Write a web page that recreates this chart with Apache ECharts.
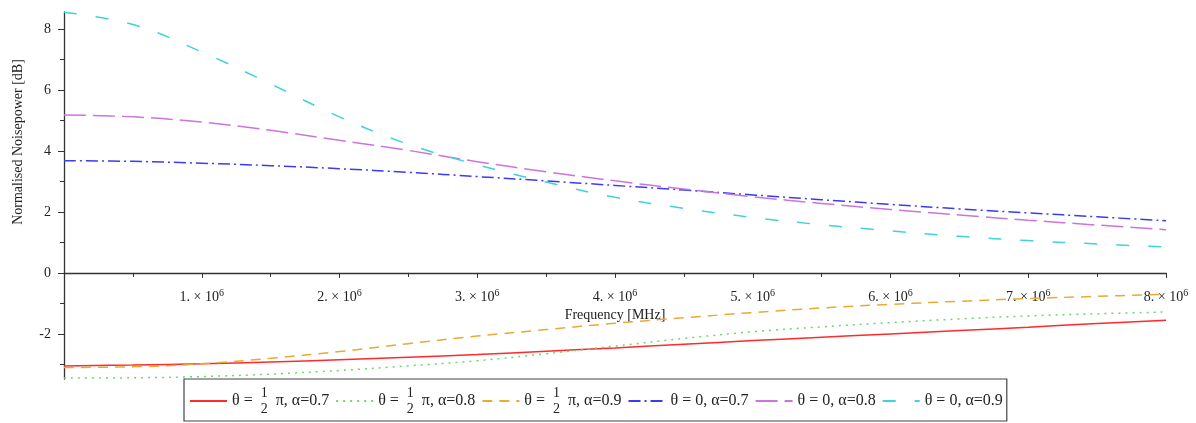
<!DOCTYPE html>
<html>
<head>
<meta charset="utf-8">
<script src="https://cdn.jsdelivr.net/npm/echarts@6/dist/echarts.min.js"></script>
<style>
  html, body { margin: 0; padding: 0; background: #fff; }
  #chart { width: 1196px; height: 423px; }
</style>
</head>
<body>
<div id="chart"></div>
<script>
// frequency samples (Hz), step 0.5e6
const freq = [0, 0.5e6, 1e6, 1.5e6, 2e6, 2.5e6, 3e6, 3.5e6, 4e6, 4.5e6, 5e6, 5.5e6, 6e6, 6.5e6, 7e6, 7.5e6, 8e6];

const seriesNames = [
  'θ = 1/2 π, α=0.7',
  'θ = 1/2 π, α=0.8',
  'θ = 1/2 π, α=0.9',
  'θ = 0, α=0.7',
  'θ = 0, α=0.8',
  'θ = 0, α=0.9'
];

const halfPi07 = [-3.05, -3.02, -2.98, -2.92, -2.85, -2.77, -2.68, -2.57, -2.46, -2.34, -2.22, -2.11, -2.0, -1.89, -1.78, -1.66, -1.55];
const halfPi08 = [-3.45, -3.44, -3.4, -3.32, -3.2, -3.05, -2.88, -2.65, -2.4, -2.15, -1.93, -1.77, -1.63, -1.51, -1.41, -1.34, -1.28];
const halfPi09 = [-3.1, -3.08, -2.98, -2.8, -2.58, -2.32, -2.07, -1.86, -1.65, -1.47, -1.3, -1.15, -1.03, -0.93, -0.84, -0.77, -0.7];
const zero07 = [3.68, 3.66, 3.6, 3.52, 3.42, 3.3, 3.16, 3.02, 2.87, 2.72, 2.56, 2.4, 2.25, 2.1, 1.97, 1.84, 1.71];
const zero08 = [5.18, 5.12, 4.95, 4.68, 4.35, 4.02, 3.65, 3.32, 3.02, 2.75, 2.5, 2.28, 2.08, 1.9, 1.73, 1.57, 1.42];
const zero09 = [8.55, 8.15, 7.25, 6.2, 5.12, 4.22, 3.55, 2.98, 2.48, 2.12, 1.82, 1.58, 1.38, 1.2, 1.06, 0.95, 0.85];

const yLabelTicks = [-2, 0, 2, 4, 6, 8];
const yMinorTicks = [-3, -1, 1, 3, 5, 7];

const SERIF = 'Liberation Serif, DejaVu Serif, serif';
const Y_MIN = -3.48, Y_MAX = 8.56;
const GRID = { left: 64, right: 30, top: 12, bottom: 44 };
const HEIGHT = 423;

const styles = [
  { color: '#ff2a2a', type: 'solid' },
  { color: '#6ad86a', type: [2, 5] },
  { color: '#e8aa34', type: [10, 7] },
  { color: '#3b3bf2', type: [12, 4, 2, 4] },
  { color: '#cc74de', type: [22, 7] },
  { color: '#3fd2da', type: [13, 19] }
];

const allData = [halfPi07, halfPi08, halfPi09, zero07, zero08, zero09];

// x axis sits on y = 0: shift it up from the grid bottom
const zeroOffset = (HEIGHT - GRID.top - GRID.bottom) * (0 - Y_MIN) / (Y_MAX - Y_MIN);

const chart = echarts.init(document.getElementById('chart'));

const yAxisBase = {
  type: 'value',
  min: Y_MIN,
  max: Y_MAX,
  position: 'left',
  splitLine: { show: false },
  axisLine: { show: true, onZero: false, lineStyle: { color: '#333', width: 1.3 } }
};

chart.setOption({
  animation: false,
  grid: Object.assign({ outerBoundsMode: 'none' }, GRID),
  graphic: [{
    type: 'text',
    x: 18,
    y: 142,
    rotation: Math.PI / 2,
    style: {
      text: 'Normalised Noisepower [dB]',
      font: '14px ' + SERIF,
      fill: '#222',
      align: 'center',
      verticalAlign: 'middle'
    }
  }],
  xAxis: {
    type: 'value',
    min: 0,
    max: 8e6,
    interval: 1e6,
    offset: -zeroOffset,
    name: 'Frequency [MHz]',
    nameLocation: 'middle',
    nameGap: 34,
    nameTextStyle: { fontFamily: SERIF, fontSize: 14, color: '#222' },
    axisLine: { onZero: false, lineStyle: { color: '#333', width: 1.3 } },
    axisTick: { show: true, length: 5, lineStyle: { color: '#333' } },
    minorTick: { show: true, splitNumber: 2, length: 4, lineStyle: { color: '#333' } },
    splitLine: { show: false },
    axisLabel: {
      margin: 15,
      formatter: v => v === 0 ? '' : '{a|' + (v / 1e6) + '. × 10}{s|6}',
      rich: {
        a: { fontFamily: SERIF, fontSize: 14, color: '#222', lineHeight: 18 },
        s: { fontFamily: SERIF, fontSize: 10, color: '#222', verticalAlign: 'top', lineHeight: 18 }
      }
    }
  },
  yAxis: [
    Object.assign({}, yAxisBase, {
      axisTick: { show: true, length: 6, customValues: yLabelTicks, lineStyle: { color: '#333' } },
      axisLabel: {
        customValues: yLabelTicks,
        margin: 13,
        fontFamily: SERIF,
        fontSize: 14,
        color: '#222'
      }
    }),
    Object.assign({}, yAxisBase, {
      axisLine: { show: false },
      axisLabel: { show: false },
      axisTick: { show: true, length: 4, customValues: yMinorTicks, lineStyle: { color: '#333' } }
    })
  ],
  legend: {
    left: 184,
    top: 379,
    itemWidth: 37,
    itemHeight: 14,
    itemGap: 6,
    padding: [7, 4, 5, 5],
    borderColor: '#444',
    borderWidth: 1.2,
    itemStyle: { opacity: 0 },
    data: seriesNames,
    formatter: name => {
      const parts = name.split('1/2');
      if (parts.length === 1) return '{t|' + name + '}';
      return '{t|' + parts[0] + '}{sp|}{n|1}{d|2}{sp|}{t|' + parts[1] + '}';
    },
    textStyle: {
      fontFamily: SERIF,
      fontSize: 16,
      color: '#222',
      lineHeight: 30,
      rich: {
        t: { fontFamily: SERIF, fontSize: 16, color: '#222', lineHeight: 30 },
        sp: { width: 4, lineHeight: 30 },
        n: { fontFamily: SERIF, fontSize: 14, color: '#222', width: 0, align: 'left', verticalAlign: 'top', lineHeight: 30 },
        d: { fontFamily: SERIF, fontSize: 14, color: '#222', verticalAlign: 'bottom', lineHeight: 30 }
      }
    }
  },
  series: seriesNames.map((name, i) => ({
    name,
    type: 'line',
    smooth: 0.4,
    symbol: 'none',
    data: freq.map((f, j) => [f, allData[i][j]]),
    itemStyle: { color: styles[i].color },
    lineStyle: { color: styles[i].color, width: 1.5, type: styles[i].type }
  }))
});
</script>
</body>
</html>
